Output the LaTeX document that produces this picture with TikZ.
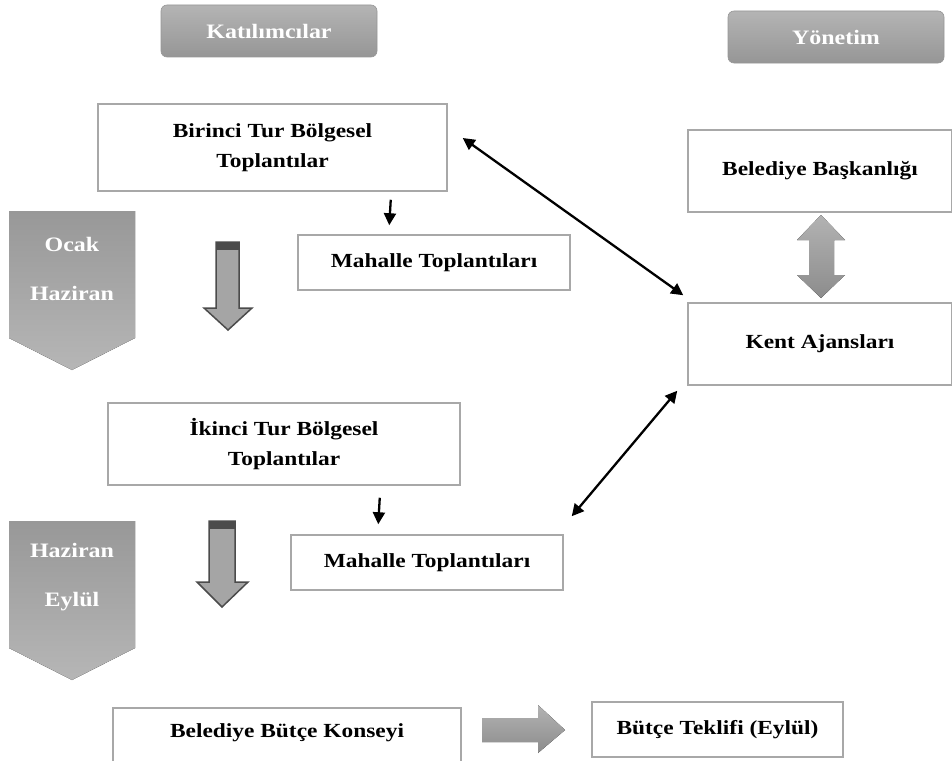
\documentclass[tikz,border=0pt]{standalone}
\usepackage{fontspec}
\setmainfont{Liberation Serif}[FakeStretch=1.17]
\usepackage{tikz}
\usetikzlibrary{arrows.meta, positioning, calc}
\definecolor{myborder}{RGB}{168,168,168}
\definecolor{mydark}{RGB}{0,0,0}
\definecolor{hdrtop}{RGB}{180,180,180}
\definecolor{hdrbot}{RGB}{150,150,150}
\definecolor{chevtop}{RGB}{152,152,152}
\definecolor{chevbot}{RGB}{182,182,182}
\definecolor{arrowfill}{RGB}{165,165,165}
\definecolor{arrowedge}{RGB}{75,75,75}
\tikzset{
  block/.style={rectangle, draw=myborder, fill=white, align=center,
    font=\fontsize{20}{30}\selectfont\bfseries, line width=1.5pt, inner sep=0pt},
  header/.style={rectangle, rounded corners=6pt, top color=hdrtop,
    bottom color=hdrbot, draw=hdrbot, line width=0.6pt, text=white,
    minimum width=216pt, minimum height=52pt,
    font=\fontsize{20.5}{24}\selectfont\bfseries},
  monthtext/.style={text=white, align=center, inner sep=0pt,
    font=\fontsize{20.5}{49}\selectfont\bfseries},
  chevron/.style={top color=chevtop, bottom color=chevbot},
  grayarrow/.style={fill=arrowfill, draw=arrowedge, line width=1.5pt},
  flatarrow/.style={top color=arrowfill!85, bottom color=arrowfill!85!black},
  arrow/.style={-{Triangle[length=12pt,width=12pt]}, line width=2.3pt, color=mydark},
  dblarrow/.style={{Triangle[length=12pt,width=12pt]}-{Triangle[length=12pt,width=12pt]},
    line width=2.3pt, color=mydark}
}
\begin{document}
\begin{tikzpicture}[x=1pt, y=-1pt]
  \useasboundingbox (0,0) rectangle (952,760);
  % column heads
  \node[header] (katilim) at (269,31) {Katılımcılar};
  \node[header] (yonetim) at (836,37) {Yönetim};
  % participants
  \node[block, minimum width=349pt, minimum height=87pt] (birinci) at (272.5,147.5) {Birinci Tur Bölgesel\\Toplantılar};
  \node[block, minimum width=272pt, minimum height=55pt] (mahalle1) at (434,262.5) {Mahalle Toplantıları};
  \node[block, minimum width=352pt, minimum height=82pt] (ikinci) at (284,444) {İkinci Tur Bölgesel\\Toplantılar};
  \node[block, minimum width=272pt, minimum height=55pt] (mahalle2) at (427,562.5) {Mahalle Toplantıları};
  \node[block, anchor=north, minimum width=348pt, inner sep=5pt,
    text height=25pt, text depth=45pt] (konsey) at (287,707) {Belediye Bütçe Konseyi};
  \node[block, minimum width=251pt, minimum height=55pt] (teklif) at (717.5,729.5) {Bütçe Teklifi (Eylül)};
  % administration
  \node[block, minimum width=264pt, minimum height=82pt] (baskan) at (820,171) {Belediye Başkanlığı};
  \node[block, minimum width=264pt, minimum height=82pt] (kent) at (820,344) {Kent Ajansları};
  % periods
  \fill[chevron] (9,211) -- (135,211) -- (135,338) -- (72,370) -- (9,338) -- cycle;
  \node[monthtext] (donem1) at (72,268.5) {Ocak\\Haziran};
  \fill[chevron] (9,521) -- (135,521) -- (135,648) -- (72,680) -- (9,648) -- cycle;
  \node[monthtext] (donem2) at (72,577.5) {Haziran\\Eylül};
  % gray block arrows
  \draw[grayarrow] (216,242) -- (239,242) -- (239,308) -- (252,308) -- (228,330)
    -- (204,308) -- (216,308) -- cycle;
  \fill[arrowedge] (216,242) rectangle (239,250);
  \draw[grayarrow] (209,521) -- (235,521) -- (235,582) -- (248,582) -- (222,607)
    -- (197,582) -- (209,582) -- cycle;
  \fill[arrowedge] (209,521) rectangle (235,529);
  \fill[flatarrow] (821,215) -- (845,240) -- (834,240) -- (834,275) -- (845,275)
    -- (821,298) -- (797,275) -- (809,275) -- (809,240) -- (797,240) -- cycle;
  \fill[flatarrow] (482,718) -- (538,718) -- (538,705) -- (565,730) -- (538,753)
    -- (538,742) -- (482,742) -- cycle;
  % connectors
  \draw[arrow] ([shift={(-57,8)}]birinci.south east) -- ([shift={(92,-9)}]mahalle1.north west);
  \draw[arrow] ([shift={(-81,12)}]ikinci.south east) -- ([shift={(88,-10)}]mahalle2.north west);
  \draw[dblarrow] ([shift={(15,-9.5)}]birinci.east) -- ([shift={(-4,-7)}]kent.north west);
  \draw[dblarrow] ([shift={(-10,5)}]kent.south west) -- ([shift={(8,-18)}]mahalle2.north east);
\end{tikzpicture}
\end{document}
